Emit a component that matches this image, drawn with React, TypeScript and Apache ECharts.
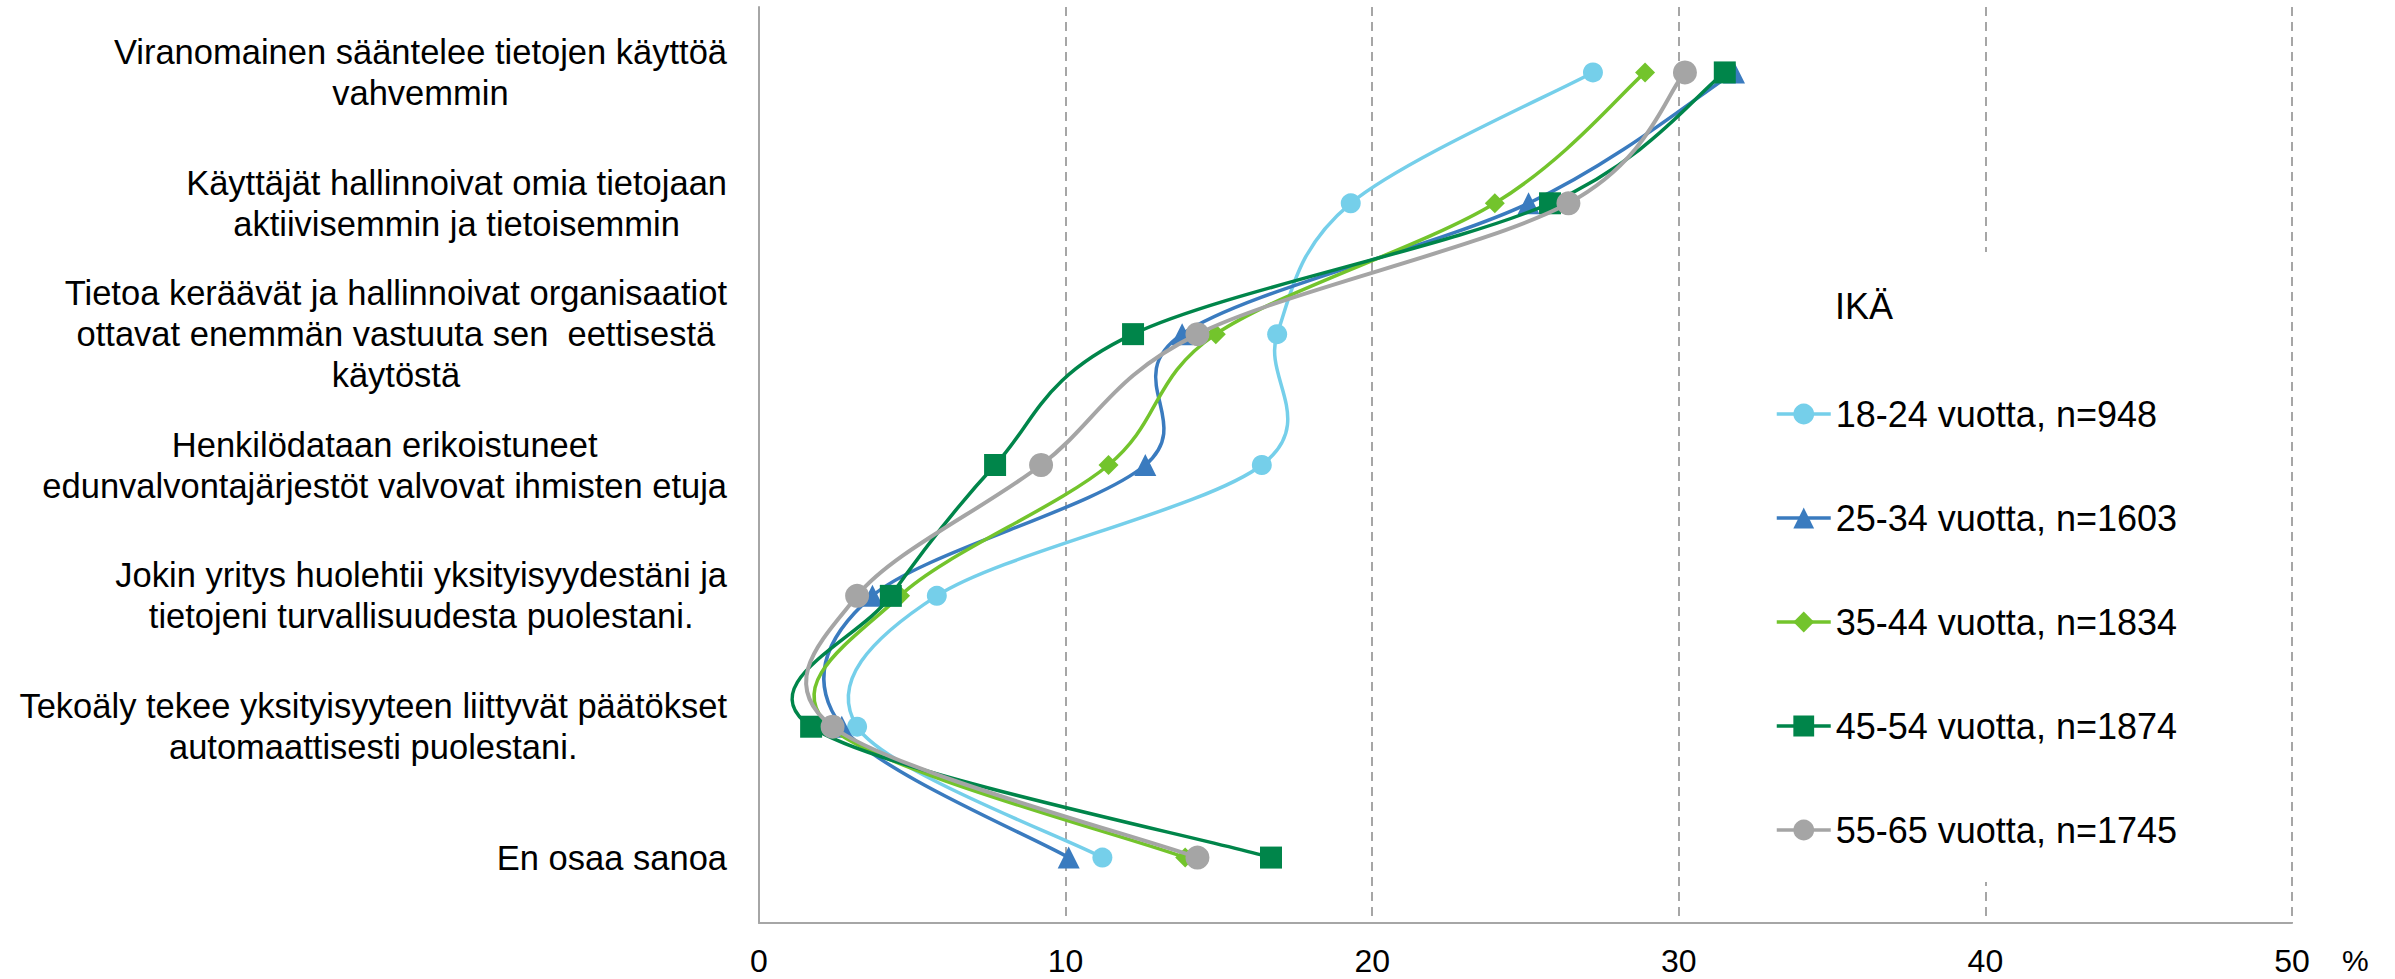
import React, { useEffect, useRef } from "react";
import * as echarts from "echarts";

const categories = [
  "Viranomainen sääntelee tietojen käyttöä\nvahvemmin",
  "Käyttäjät hallinnoivat omia tietojaan\naktiivisemmin ja tietoisemmin",
  "Tietoa keräävät ja hallinnoivat organisaatiot\nottavat enemmän vastuuta sen  eettisestä\nkäytöstä",
  "Henkilödataan erikoistuneet\nedunvalvontajärjestöt valvovat ihmisten etuja",
  "Jokin yritys huolehtii yksityisyydestäni ja\ntietojeni turvallisuudesta puolestani.",
  "Tekoäly tekee yksityisyyteen liittyvät päätökset\nautomaattisesti puolestani.",
  "En osaa sanoa",
];

const seriesNames = [
  "18-24 vuotta, n=948",
  "25-34 vuotta, n=1603",
  "35-44 vuotta, n=1834",
  "45-54 vuotta, n=1874",
  "55-65 vuotta, n=1745",
];

const v1824 = [27.2, 19.3, 16.9, 16.4, 5.8, 3.2, 11.2];
const v2534 = [31.8, 25.1, 13.8, 12.6, 3.7, 2.7, 10.1];
const v3544 = [28.9, 24.0, 14.9, 11.4, 4.6, 2.3, 13.9];
const v4554 = [31.5, 25.8, 12.2, 7.7, 4.3, 1.7, 16.7];
const v5565 = [30.2, 26.4, 14.3, 9.2, 3.2, 2.4, 14.3];

const values = [v1824, v2534, v3544, v4554, v5565];
const colors = ["#75CFEA", "#3A7BBF", "#73C42C", "#00854A", "#A5A5A5"];
const symbols = ["circle", "triangle", "diamond", "rect", "circle"];
const symbolSizes = [20, 22, 20, 22, 24];
const lineWidths = [3.5, 3.5, 3.5, 3.5, 4];

const SANS = "'Liberation Sans', Arial, sans-serif";

// Excel-like smoothed segment (Catmull-Rom, tension 1/6) drawn between data points
function makeCurveRenderer(color: string, width: number) {
  return (params: any, api: any) => {
    const i = params.dataIndexInside;
    const n = params.dataInsideLength;
    if (i >= n - 1) return { type: "group", children: [] };
    const pt = (k: number) => {
      const kk = Math.max(0, Math.min(n - 1, k));
      return api.coord([api.value(0, kk), api.value(1, kk)]);
    };
    const p0 = pt(i - 1);
    const p1 = pt(i);
    const p2 = pt(i + 1);
    const p3 = pt(i + 2);
    return {
      type: "bezierCurve",
      shape: {
        x1: p1[0],
        y1: p1[1],
        x2: p2[0],
        y2: p2[1],
        cpx1: p1[0] + (p2[0] - p0[0]) / 6,
        cpy1: p1[1] + (p2[1] - p0[1]) / 6,
        cpx2: p2[0] - (p3[0] - p1[0]) / 6,
        cpy2: p2[1] - (p3[1] - p1[1]) / 6,
      },
      style: { stroke: color, lineWidth: width, fill: "none" },
    };
  };
}

export default function App() {
  const ref = useRef<HTMLDivElement>(null);
  useEffect(() => {
    document.body.style.margin = "0";
    const chart = echarts.init(ref.current!, null, { renderer: "svg" });

    const markerSeries = values.map((vals, i) => ({
      name: seriesNames[i],
      type: "line",
      data: vals,
      smooth: false,
      symbol: symbols[i],
      symbolSize: symbolSizes[i],
      lineStyle: { color: colors[i], width: 0 },
      itemStyle: { color: colors[i] },
      z: 3 + 2 * i,
    }));
    const curveSeries = values.map((vals, i) => ({
      name: "curve " + seriesNames[i],
      type: "custom",
      coordinateSystem: "cartesian2d",
      data: vals.map((v, k) => [v, k]),
      encode: { x: 0, y: 1 },
      clip: false,
      silent: true,
      renderItem: makeCurveRenderer(colors[i], lineWidths[i]),
      z: 2 + 2 * i,
    }));

    const option: any = {
      animation: false,
      backgroundColor: "#ffffff",
      title: {
        text: "IKÄ",
        left: 1835,
        top: 288,
        padding: 0,
        textStyle: { fontFamily: SANS, fontSize: 36, fontWeight: "normal", color: "#000" },
      },
      legend: {
        orient: "vertical",
        left: 1760,
        top: 252,
        padding: [144, 40, 34, 15],
        backgroundColor: "#ffffff",
        itemWidth: 54,
        itemHeight: 26,
        itemGap: 68,
        data: seriesNames.map((n, i) => ({
          name: n,
          lineStyle: { color: colors[i], width: 3.5 },
          itemStyle: { color: colors[i] },
        })),
        textStyle: { fontFamily: SANS, fontSize: 36, color: "#000" },
      },
      grid: {
        left: 759,
        right: 103,
        top: 7,
        bottom: 56,
        containLabel: false,
        outerBoundsMode: "none",
      },
      xAxis: {
        type: "value",
        min: 0,
        max: 50,
        interval: 10,
        name: "%",
        nameLocation: "end",
        nameGap: 50,
        nameTextStyle: {
          fontFamily: SANS,
          fontSize: 30,
          lineHeight: 30,
          color: "#000",
          verticalAlign: "top",
          padding: [22, 0, 0, 0],
        },
        axisLine: { show: true, lineStyle: { color: "#A6A6A6", width: 2 } },
        axisTick: { show: false },
        axisLabel: { fontFamily: SANS, fontSize: 32, color: "#000", margin: 22 },
        splitLine: { show: true, lineStyle: { color: "#A6A6A6", width: 2, type: [9, 6] } },
      },
      yAxis: {
        type: "category",
        data: categories,
        inverse: true,
        boundaryGap: true,
        axisLine: { show: true, lineStyle: { color: "#A6A6A6", width: 2 } },
        axisTick: { show: false },
        splitLine: { show: false },
        axisLabel: {
          margin: 32,
          align: "right",
          formatter: (v: string) => v.split("\n").map((l) => `{c|${l}}`).join("\n"),
          rich: {
            c: { fontFamily: SANS, fontSize: 34.5, lineHeight: 41, color: "#000", align: "center" },
          },
        },
      },
      series: [...markerSeries, ...curveSeries],
    };
    chart.setOption(option);
    return () => chart.dispose();
  }, []);
  return <div ref={ref} style={{ width: 2395, height: 979 }} />;
}
